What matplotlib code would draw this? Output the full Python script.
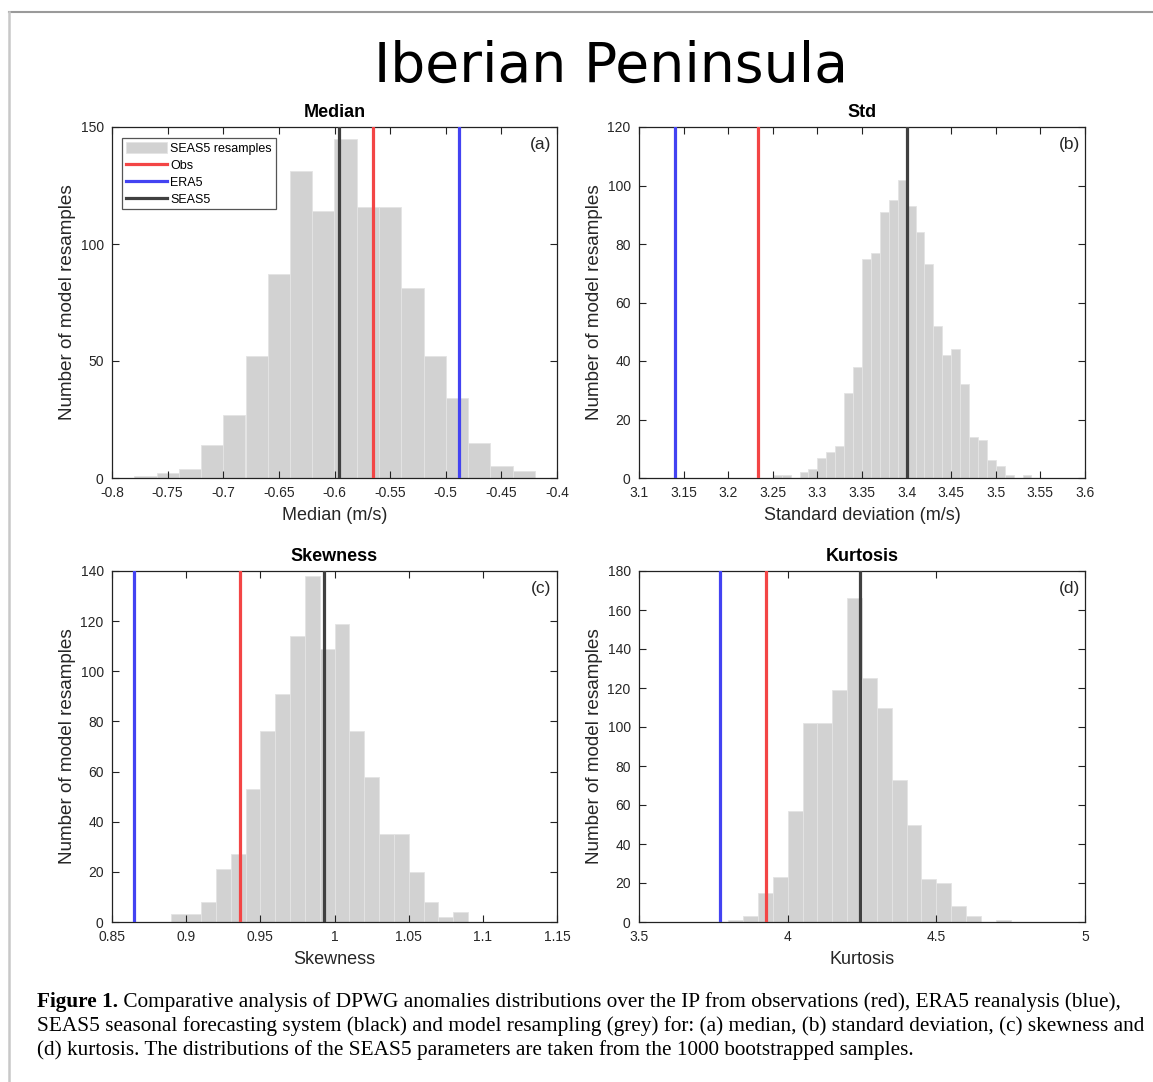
import numpy as np
import matplotlib
matplotlib.use("Agg")
import matplotlib.pyplot as plt
from matplotlib.lines import Line2D
from matplotlib.ticker import FuncFormatter

# ---------------- data ----------------
titles = ["Median", "Std", "Skewness", "Kurtosis"]
xlabels = ["Median (m/s)", "Standard deviation (m/s)", "Skewness", "Kurtosis"]
panel_tags = ["(a)", "(b)", "(c)", "(d)"]

median_first_edge, median_bin = -0.78, 0.02
median_counts = [1, 2, 4, 14, 27, 52, 87, 131, 114, 145, 116, 116, 81, 52, 34, 15, 5, 3]

std_first_edge, std_bin = 3.25, 0.01
std_counts = [1, 1, 0, 2, 3, 7, 9, 11, 29, 38, 75, 77, 91, 95, 102, 93, 84, 73,
              52, 42, 44, 32, 14, 13, 6, 4, 1, 0, 1]

skew_first_edge, skew_bin = 0.89, 0.01
skew_counts = [3, 3, 8, 21, 27, 53, 76, 91, 114, 138, 109, 119, 76, 58, 35, 35, 20, 8, 2, 4]

kurt_first_edge, kurt_bin = 3.80, 0.05
kurt_counts = [1, 3, 15, 23, 57, 102, 102, 119, 166, 125, 110, 73, 50, 22, 20, 8, 3, 0, 1]

obs_values = [-0.565, 3.233, 0.936, 3.927]
era5_values = [-0.488, 3.140, 0.865, 3.772]
seas5_values = [-0.596, 3.400, 0.993, 4.243]

xlims = [(-0.8, -0.4), (3.1, 3.6), (0.85, 1.15), (3.5, 5.0)]
xtick_lists = [
    [-0.8, -0.75, -0.7, -0.65, -0.6, -0.55, -0.5, -0.45, -0.4],
    [3.1, 3.15, 3.2, 3.25, 3.3, 3.35, 3.4, 3.45, 3.5, 3.55, 3.6],
    [0.85, 0.9, 0.95, 1.0, 1.05, 1.1, 1.15],
    [3.5, 4.0, 4.5, 5.0],
]
ylims = [150, 120, 140, 180]
ytick_lists = [
    [0, 50, 100, 150],
    [0, 20, 40, 60, 80, 100, 120],
    [0, 20, 40, 60, 80, 100, 120, 140],
    [0, 20, 40, 60, 80, 100, 120, 140, 160, 180],
]

hist_sets = [
    (median_first_edge, median_bin, median_counts),
    (std_first_edge, std_bin, std_counts),
    (skew_first_edge, skew_bin, skew_counts),
    (kurt_first_edge, kurt_bin, kurt_counts),
]

caption_lines = [
    ("Figure 1.", " Comparative analysis of DPWG anomalies distributions over the IP from observations (red), ERA5 reanalysis (blue),"),
    ("", "SEAS5 seasonal forecasting system (black) and model resampling (grey) for: (a) median, (b) standard deviation, (c) skewness and"),
    ("", "(d) kurtosis. The distributions of the SEAS5 parameters are taken from the 1000 bootstrapped samples."),
]

# ---------------- style ----------------
W, H = 1153, 1082
DPI = 100
plt.rcParams["font.family"] = ["Liberation Sans", "DejaVu Sans"]

C_OBS = "#f34545"
C_ERA = "#4343f2"
C_SEAS = "#404040"
C_BAR = "#d2d2d2"
C_TXT = "#262626"

fig = plt.figure(figsize=(W / DPI, H / DPI), dpi=DPI)

# axes boxes in pixels: left, top, right, bottom
boxes = [
    (112, 127, 557, 478),
    (639, 127, 1085, 478),
    (112, 571, 557, 922),
    (639, 571, 1085, 922),
]

fmt = FuncFormatter(lambda v, p: ("%g" % round(v, 4)))

for i, (l, t, r, b) in enumerate(boxes):
    ax = fig.add_axes([l / W, 1 - b / H, (r - l) / W, (b - t) / H])
    first, width, counts = hist_sets[i]
    lefts = [first + k * width for k in range(len(counts))]
    bars = ax.bar(lefts, counts, width=width, align="edge", color=C_BAR,
                  edgecolor="#e4e4e4", linewidth=0.6, zorder=1,
                  label="SEAS5 resamples")
    lo = ax.axvline(obs_values[i], color=C_OBS, lw=2.3, zorder=3, label="Obs")
    le = ax.axvline(era5_values[i], color=C_ERA, lw=2.3, zorder=3, label="ERA5")
    ls = ax.axvline(seas5_values[i], color=C_SEAS, lw=2.3, zorder=3, label="SEAS5")

    ax.set_xlim(*xlims[i])
    ax.set_ylim(0, ylims[i])
    ax.set_xticks(xtick_lists[i])
    ax.set_yticks(ytick_lists[i])
    ax.xaxis.set_major_formatter(fmt)
    ax.yaxis.set_major_formatter(fmt)
    ax.tick_params(direction="in", length=5, width=0.8, top=True, right=True,
                   labelsize=10, colors="#222222", labelcolor=C_TXT, pad=6)
    for sp in ax.spines.values():
        sp.set_linewidth(0.9)
        sp.set_color("#222222")
    ax.set_xlabel(xlabels[i], fontsize=13, color=C_TXT, labelpad=5)
    ax.set_ylabel("Number of model resamples", fontsize=13.6, color=C_TXT, labelpad=3)
    ax.set_title(titles[i], fontsize=13, fontweight="bold", pad=7)
    ax.text(0.988, 0.95, panel_tags[i], transform=ax.transAxes, ha="right",
            va="center", fontsize=12.5, color=C_TXT)

    if i == 0:
        leg = ax.legend(handles=[bars, lo, le, ls],
                        loc="upper left", bbox_to_anchor=(0.0225, 0.969),
                        borderaxespad=0, fontsize=9, frameon=True,
                        fancybox=False, edgecolor="#555555", framealpha=1,
                        handlelength=3.3, handleheight=1.0, handletextpad=0.25,
                        labelspacing=0.33, borderpad=0.3)
        leg.get_frame().set_linewidth(0.9)

# big title
fig.text(611 / W, 1 - 82 / H, "Iberian Peninsula", ha="center", va="baseline",
         fontsize=39.8, family="DejaVu Sans", color="black")

# border lines
fig.add_artist(Line2D([8.5 / W, 1.0], [1 - 11.5 / H, 1 - 11.5 / H],
                      transform=fig.transFigure, color="#9a9a9a", lw=1.5))
fig.add_artist(Line2D([8.5 / W, 8.5 / W], [1 - 11.5 / H, 0.0],
                      transform=fig.transFigure, color="#c8c8c8", lw=1.8))

# caption
fig.canvas.draw()
renderer = fig.canvas.get_renderer()
cap_size = 15.3
x0 = 37
baselines = [1006.5, 1030.5, 1054.5]
for (bold, rest), yb in zip(caption_lines, baselines):
    x = x0
    if bold:
        tb = fig.text(x / W, 1 - yb / H, bold, ha="left", va="baseline",
                      fontsize=cap_size, family="Liberation Serif",
                      fontweight="bold", color="black")
        bb = tb.get_window_extent(renderer)
        x = bb.x1
    fig.text(x / W, 1 - yb / H, rest, ha="left", va="baseline",
             fontsize=cap_size, family="Liberation Serif", color="black")

fig.savefig("out.png", dpi=DPI)
